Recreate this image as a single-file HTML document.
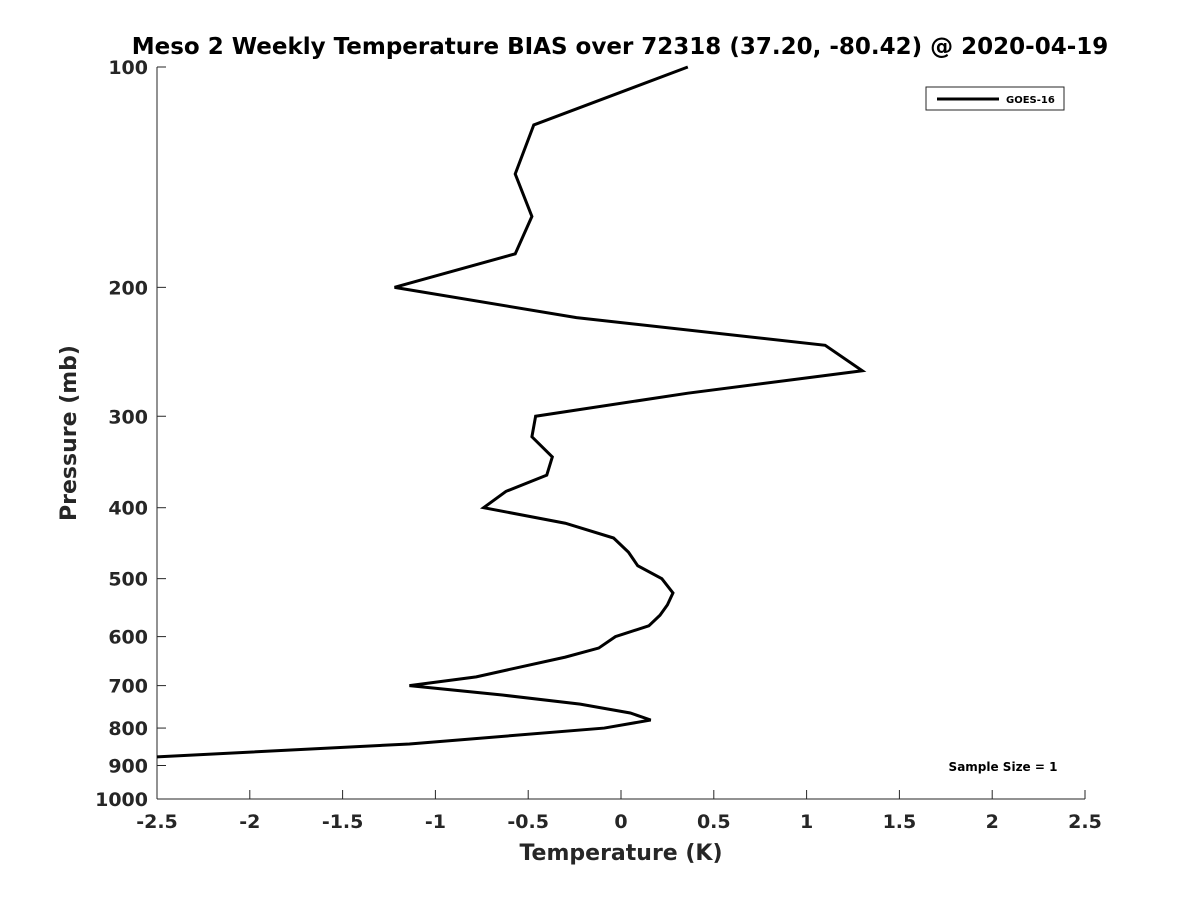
<!DOCTYPE html>
<html><head><meta charset="utf-8"><style>
body{margin:0;background:#fff;}
svg text{font-family:"DejaVu Sans","Liberation Sans",sans-serif;font-weight:bold;fill:#262626;}
</style></head><body>
<svg id="chart" width="1200" height="900" viewBox="0 0 1200 900" xmlns="http://www.w3.org/2000/svg">
<text x="620" y="54" font-size="23" text-anchor="middle" style="fill:#000">Meso 2 Weekly Temperature BIAS over 72318 (37.20, -80.42) @ 2020-04-19</text>
<g id="axes"></g>
<g id="series"></g>
<g>
<rect x="926" y="87" width="138" height="23" fill="#fff" stroke="#262626" stroke-width="1"/>
<line x1="937" y1="99" x2="999" y2="99" stroke="#000" stroke-width="3"/>
<text x="1006" y="103" font-size="10" style="fill:#000">GOES-16</text>
</g>
<text x="1003" y="771" font-size="12" text-anchor="middle" style="fill:#000">Sample Size = 1</text>
<text x="621" y="860" font-size="22" text-anchor="middle">Temperature (K)</text>
<text transform="translate(76,433) rotate(-90)" font-size="22" text-anchor="middle">Pressure (mb)</text>
</svg>
<script>
const xTicks=[-2.5,-2,-1.5,-1,-0.5,0,0.5,1,1.5,2,2.5];
const xTickLabels=["-2.5","-2","-1.5","-1","-0.5","0","0.5","1","1.5","2","2.5"];
const yTicks=[100,200,300,400,500,600,700,800,900,1000];
const pressures=[100,120,140,160,180,200,220,240,260,279,300,320,341,361,380,400,420,440,460,480,500,523,543,561,580,600,622,640,660,681,700,721,742,763,780,800,841,876];
const biasValues=[0.36,-0.47,-0.57,-0.48,-0.57,-1.22,-0.24,1.10,1.30,0.36,-0.46,-0.48,-0.37,-0.40,-0.62,-0.74,-0.30,-0.04,0.04,0.09,0.22,0.28,0.25,0.21,0.15,-0.03,-0.12,-0.30,-0.54,-0.78,-1.14,-0.64,-0.22,0.05,0.16,-0.09,-1.14,-2.5];
const L=157,R=1085,T=67,B=799;
const xs=v=>L+(v+2.5)/5*(R-L);
const ys=p=>T+(Math.log10(p)-2)*(B-T);
const NS="http://www.w3.org/2000/svg";
const ax=document.getElementById('axes');
function mk(t,a,parent){const e=document.createElementNS(NS,t);for(const k in a)e.setAttribute(k,a[k]);parent.appendChild(e);return e;}
let e=mk('line',{x1:L,y1:B,x2:R,y2:B,stroke:'#262626','stroke-width':1},ax);


e=mk('line',{x1:L,y1:T,x2:L,y2:B,stroke:'#262626','stroke-width':1},ax);


xTicks.forEach((v,i)=>{
 const x=xs(v);
 let t=mk('line',{x1:x,y1:B,x2:x,y2:B-9,stroke:'#262626'},ax);
 
 
 let l=mk('text',{x:x,y:B+29,'font-size':19,'text-anchor':'middle'},ax);
 l.textContent=xTickLabels[i];
 
 
});
yTicks.forEach(p=>{
 const y=ys(p);
 let t=mk('line',{x1:L,y1:y,x2:L+9,y2:y,stroke:'#262626'},ax);
 
 
 let l=mk('text',{x:L-9,y:y+7,'font-size':19,'text-anchor':'end'},ax);
 l.textContent=String(p);
 
 
});
const pts=pressures.map((p,i)=>xs(Math.max(-2.5,biasValues[i]))+','+ys(p)).join(' ');
const pl=mk('polyline',{points:pts,fill:'none',stroke:'#000','stroke-width':3,'stroke-linejoin':'miter'},document.getElementById('series'));


</script>
</body></html>
